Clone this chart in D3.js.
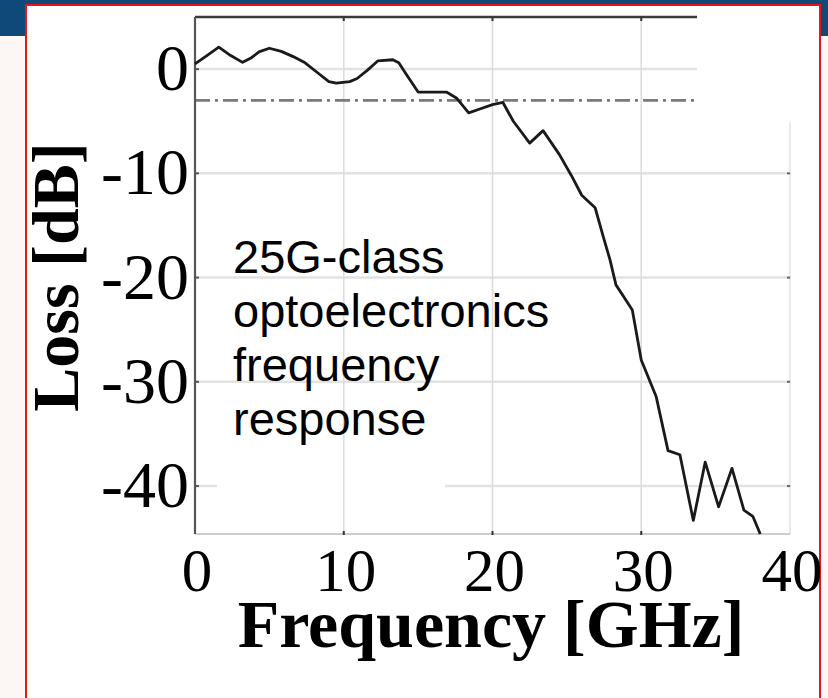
<!DOCTYPE html>
<html><head><meta charset="utf-8">
<script src="https://cdn.jsdelivr.net/npm/d3@7"></script>
<style>html,body{margin:0;padding:0;background:#fcf6f5;}svg{display:block;}</style>
</head><body>
<svg id="c" width="828" height="698"></svg>
<script>
// ---- data ----
const freqGHz = [0.0,0.8,1.6,2.4,3.2,3.8,4.3,5.0,5.8,6.6,7.4,8.2,9.0,9.5,10.4,10.9,11.6,12.3,13.3,13.7,14.2,15.0,16.9,17.6,18.4,19.2,20.0,20.7,21.4,22.5,23.4,24.5,25.3,26.0,26.9,27.45,27.9,28.3,28.8,29.4,29.7,30.0,31.0,31.8,32.6,33.5,34.3,35.2,36.1,36.9,37.5,38.0];
const lossDB  = [0.5,1.3,2.1,1.3,0.65,1.1,1.65,2.0,1.7,1.2,0.6,-0.3,-1.2,-1.35,-1.2,-0.9,-0.1,0.8,0.9,0.6,-0.5,-2.2,-2.2,-2.8,-4.2,-3.8,-3.4,-3.2,-5.0,-7.1,-5.9,-8.2,-10.2,-12.1,-13.3,-16.1,-18.3,-20.7,-21.8,-23.1,-25.5,-27.9,-31.4,-36.6,-37.0,-43.3,-37.7,-42.0,-38.3,-42.3,-42.9,-44.6];
const xTicks = [0,10,20,30,40];
const yTicks = [0,-10,-20,-30,-40];
const yTickLabels = ["0","-10","-20","-30","-40"];
const threshold3dB = [-3];
const annotationLines = ["25G-class","optoelectronics","frequency","response"];
const xTitle = "Frequency [GHz]";
const yTitle = "Loss [dB]";

const svg = d3.select("#c");
// slide background
svg.append("rect").attr("x",0).attr("y",0).attr("width",828).attr("height",36).attr("fill","#0f497a");
svg.append("rect").attr("x",26).attr("y",5).attr("width",794).attr("height",720)
  .attr("fill","#fff").attr("stroke","#e8151b").attr("stroke-width",2);

const x = d3.scaleLinear().domain([0,40]).range([195,790]);
const y = d3.scaleLinear().domain([5,-44.6]).range([17,534]);

const g = svg.append("g");
// horizontal gridlines
g.selectAll(".hg").data(yTicks).join("line")
  .attr("x1",x(0)).attr("x2",x(40)).attr("y1",d=>y(d)).attr("y2",d=>y(d))
  .attr("stroke","#e2e2e2").attr("stroke-width",2.5);
// patch hiding part of -40 grid
g.append("rect").attr("x",217).attr("y",y(-40)-4).attr("width",228).attr("height",8).attr("fill","#fff");
// vertical gridlines
g.selectAll(".vg").data([10,20,30]).join("line")
  .attr("x1",d=>x(d)).attr("x2",d=>x(d)).attr("y1",y(5)).attr("y2",y(-44.6))
  .attr("stroke","#dcdcdc").attr("stroke-width",1.6);
// right frame
g.append("line").attr("x1",x(40)).attr("x2",x(40)).attr("y1",y(5)).attr("y2",y(-44.6))
  .attr("stroke","#e4e4e4").attr("stroke-width",1.6);
// bottom axis line
g.append("line").attr("x1",x(0)).attr("x2",x(40)).attr("y1",y(-44.6)).attr("y2",y(-44.6))
  .attr("stroke","#bdbdbd").attr("stroke-width",1.6);
// ticks
g.selectAll(".bt").data([10,20,30]).join("line")
  .attr("x1",d=>x(d)).attr("x2",d=>x(d)).attr("y1",y(-44.6)-3).attr("y2",y(-44.6)+1)
  .attr("stroke","#333").attr("stroke-width",2);
g.selectAll(".rt").data(yTicks.slice(1)).join("line")
  .attr("x1",x(40)-3).attr("x2",x(40)).attr("y1",d=>y(d)).attr("y2",d=>y(d))
  .attr("stroke","#666").attr("stroke-width",2);
// top frame
g.append("line").attr("x1",x(0)).attr("x2",x(40)).attr("y1",y(5)).attr("y2",y(5))
  .attr("stroke","#3a3a3a").attr("stroke-width",2.6);
g.selectAll(".tt").data([10,20,30]).join("line")
  .attr("x1",d=>x(d)).attr("x2",d=>x(d)).attr("y1",y(5)).attr("y2",y(5)+4)
  .attr("stroke","#333").attr("stroke-width",2);
// -3 dB dash-dot
g.selectAll(".th").data(threshold3dB).join("line")
  .attr("x1",x(0)).attr("x2",x(40)).attr("y1",d=>y(d)).attr("y2",d=>y(d))
  .attr("stroke","#7a7a7a").attr("stroke-width",2.6).attr("stroke-dasharray","15,5,3,5");
// white mask at top right (inside the red frame)
g.append("rect").attr("x",x(33.75)).attr("y",8).attr("width",x(40)+4-x(33.75)).attr("height",y(-5.1)-8)
  .attr("fill","#fff");
// left axis
g.append("line").attr("x1",x(0)).attr("x2",x(0)).attr("y1",y(5)).attr("y2",y(-44.6))
  .attr("stroke","#555").attr("stroke-width",2.2);
g.selectAll(".lt").data(yTicks).join("line")
  .attr("x1",x(0)).attr("x2",x(0)+4).attr("y1",d=>y(d)).attr("y2",d=>y(d))
  .attr("stroke","#555").attr("stroke-width",2);

// curve
const pts = freqGHz.map((f,i)=>[f,lossDB[i]]);
g.append("path").datum(pts)
  .attr("d", d3.line().x(d=>x(d[0])).y(d=>y(d[1])))
  .attr("fill","none").attr("stroke","#1a1a1a").attr("stroke-width",2.8)
  .attr("stroke-linejoin","round");

// tick labels
g.selectAll(".yl").data(yTicks).join("text")
  .attr("x",189).attr("y",d=>y(d)+21).attr("text-anchor","end")
  .attr("font-family","Liberation Serif, Times New Roman, serif").attr("font-size",66)
  .attr("fill","#000").text((d,i)=>yTickLabels[i]);
g.selectAll(".xl").data(xTicks).join("text")
  .attr("x",d=>x(d)+2).attr("y",591).attr("text-anchor","middle")
  .attr("font-family","Liberation Serif, Times New Roman, serif").attr("font-size",61)
  .attr("fill","#000").text(d=>d);

// titles
svg.append("text").attr("x",491).attr("y",647).attr("text-anchor","middle")
  .attr("font-family","Liberation Serif, Times New Roman, serif").attr("font-weight","bold")
  .attr("font-size",68).text(xTitle);
svg.append("text").attr("transform","translate(78,277) rotate(-90)").attr("text-anchor","middle")
  .attr("font-family","Liberation Serif, Times New Roman, serif").attr("font-weight","bold")
  .attr("font-size",66).text(yTitle);

// annotation
svg.append("g").selectAll("text").data(annotationLines).join("text")
  .attr("x",233).attr("y",(d,i)=>273+i*54)
  .attr("font-family","Liberation Sans, Arial, sans-serif").attr("font-size",47)
  .attr("fill","#000").text(d=>d);
</script>
</body></html>
